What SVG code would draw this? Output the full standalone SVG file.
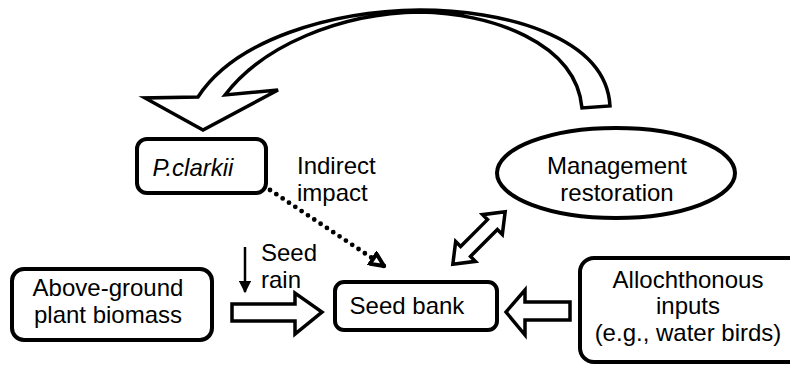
<svg xmlns="http://www.w3.org/2000/svg" width="790" height="365" viewBox="0 0 790 365">
<style>
.box{fill:#fff;stroke:#000;stroke-width:4}
.t{font-family:"Liberation Sans",Arial,sans-serif;font-size:24px;fill:#000}
.c{text-anchor:middle}
.hol{fill:#fff;stroke:#000;stroke-width:3.5;stroke-linejoin:miter}
</style>
<defs>
<marker id="tri" viewBox="0 0 16 16" refX="15" refY="8" markerWidth="16" markerHeight="16" markerUnits="userSpaceOnUse" orient="auto">
<path d="M2 2 L15 8 L2 14 Z" fill="#fff" stroke="#000" stroke-width="4" stroke-linejoin="miter"/>
</marker>
<marker id="solid" viewBox="0 0 10 10" refX="9" refY="5" markerWidth="5" markerHeight="5" orient="auto">
<path d="M0 0 L10 5 L0 10 Z" fill="#000"/>
</marker>
</defs>
<rect width="790" height="365" fill="#fff"/>
<g id="connectors">
<path id="feedback" class="hol" d="M610 106 C606 35 500 10 420 10 C330 11 235 40 198 97 L145 98 L203 130 L278 90 L225 95 C262 46 340 13 420 12 C490 13 576 42 582 108 Z"/>
<path id="indirect" d="M270 190 L384 266" stroke="#000" stroke-width="4.8" stroke-dasharray="0 7.6" stroke-linecap="round" fill="none" marker-end="url(#tri)"/>
<path id="seedrain" d="M245 247 L245 292" stroke="#000" stroke-width="2.5" fill="none" marker-end="url(#solid)"/>
<polygon id="biomass-arrow" class="hol" points="232,304 295,304 295,293 322,312 295,334 295,321 232,321"/>
<polygon id="alloch-arrow" class="hol" points="570,302 525,302 525,290 506,312 525,335 525,320 570,320"/>
<polygon id="mgmt-arrow" class="hol" transform="translate(479,238) rotate(-45)" points="-37,0 -19,-14 -19,-7 19,-7 19,-14 37,0 19,14 19,7 -19,7 -19,14"/>
</g>
<g id="pclarkii">
<rect class="box" x="137" y="139" width="129" height="54" rx="10"/>
<text class="t c" x="193" y="176" font-style="italic">P.clarkii</text>
</g>
<g id="indirect-label">
<text class="t" x="297" y="174">Indirect</text>
<text class="t" x="297" y="201">impact</text>
</g>
<g id="management">
<ellipse cx="616" cy="173" rx="119" ry="45" fill="#fff" stroke="#000" stroke-width="4"/>
<text class="t c" x="617" y="174">Management</text>
<text class="t c" x="617" y="201">restoration</text>
</g>
<g id="seedrain-label">
<text class="t" x="261" y="261">Seed</text>
<text class="t" x="261" y="288">rain</text>
</g>
<g id="aboveground">
<rect class="box" x="12" y="269" width="200" height="71" rx="12"/>
<text class="t c" x="108" y="296">Above-ground</text>
<text class="t c" x="108" y="323">plant biomass</text>
</g>
<g id="seedbank">
<rect class="box" x="335" y="282" width="162" height="48" rx="9"/>
<text class="t c" x="407" y="314">Seed bank</text>
</g>
<g id="allochthonous">
<rect class="box" x="580" y="258" width="230" height="104" rx="14"/>
<text class="t c" x="688" y="288">Allochthonous</text>
<text class="t c" x="688" y="314">inputs</text>
<text class="t c" x="688" y="341">(e.g., water birds)</text>
</g>
</svg>
